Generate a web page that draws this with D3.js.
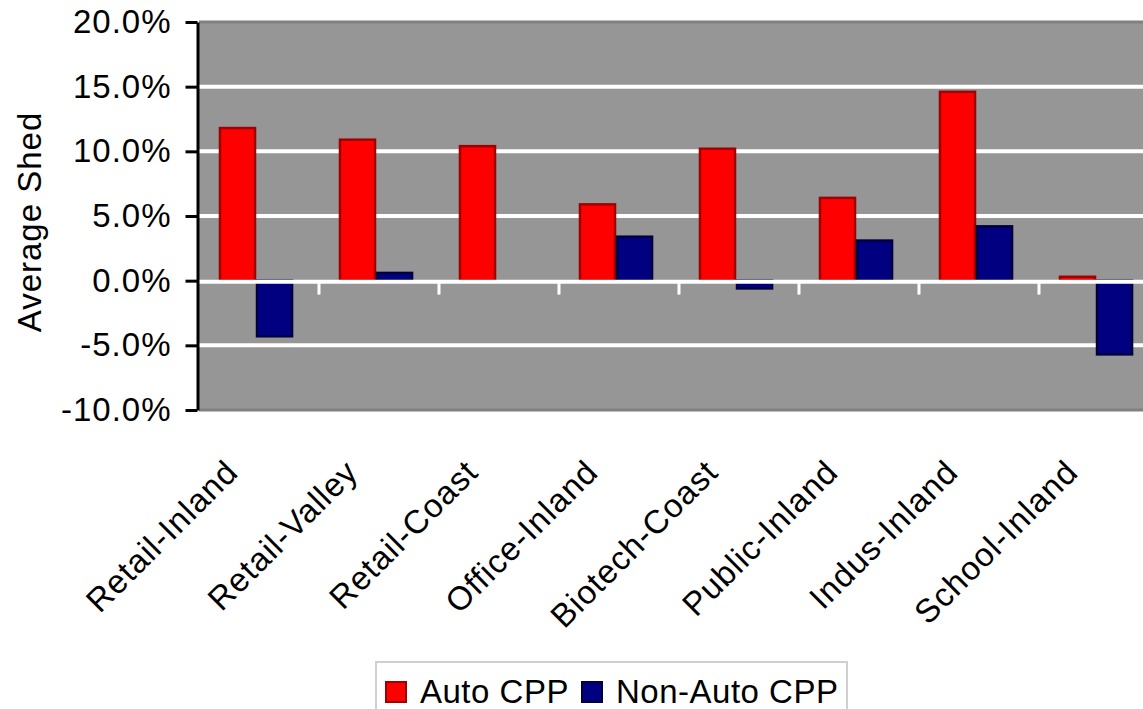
<!DOCTYPE html>
<html>
<head>
<meta charset="utf-8">
<script src="https://cdn.jsdelivr.net/npm/d3@7"></script>
<style>
  html, body { margin: 0; padding: 0; background: #fff; }
  svg { display: block; }
  text { font-family: "Liberation Sans", Arial, sans-serif; fill: #000; }
</style>
</head>
<body>
<svg id="chart" width="1143" height="709"></svg>
<script>
// Average load shed by building segment
const categories = ["Retail-Inland", "Retail-Valley", "Retail-Coast", "Office-Inland",
                    "Biotech-Coast", "Public-Inland", "Indus-Inland", "School-Inland"];
const seriesNames = ["Auto CPP", "Non-Auto CPP"];
const autoCPP    = [11.8, 10.9, 10.4, 5.9, 10.2, 6.4, 14.6, 0.3];
const nonAutoCPP = [-4.3, 0.6, 0.0, 3.4, -0.6, 3.1, 4.2, -5.7];
const yTicks = [-10, -5, 0, 5, 10, 15, 20];
const seriesColors = ["#ff0000", "#000080"];
const seriesEdges  = ["#a00000", "#000040"];

const svg = d3.select("#chart");
const plot = { left: 199, right: 1159, top: 22, bottom: 410 };

const x0 = d3.scaleBand().domain(categories).range([plot.left, plot.right]).padding(0);
const x1 = d3.scaleBand().domain(seriesNames).range([0, x0.bandwidth()])
  .paddingInner(0).paddingOuter(0.62).align(0.435);
const y = d3.scaleLinear().domain([-10, 20]).range([plot.bottom, plot.top]);

// plot background
svg.append("rect")
  .attr("x", plot.left).attr("y", plot.top)
  .attr("width", plot.right - plot.left).attr("height", plot.bottom - plot.top)
  .attr("fill", "#969696");
svg.append("g").selectAll("line").data([20, -10]).join("line")
  .attr("x1", plot.left).attr("x2", plot.right)
  .attr("y1", d => y(d)).attr("y2", d => y(d))
  .attr("stroke", "#808080").attr("stroke-width", 3);

// horizontal gridlines
svg.append("g").selectAll("line").data(yTicks.filter(d => d !== 0 && d !== 20 && d !== -10)).join("line")
  .attr("x1", plot.left).attr("x2", plot.right)
  .attr("y1", d => y(d)).attr("y2", d => y(d))
  .attr("stroke", "#fff").attr("stroke-width", 4);

// bars
const rows = categories.map((c, i) => ({ cat: c, vals: [autoCPP[i], nonAutoCPP[i]] }));
const groups = svg.append("g").selectAll("g").data(rows).join("g")
  .attr("transform", d => `translate(${x0(d.cat)},0)`);
groups.selectAll("rect")
  .data(d => d.vals.map((v, k) => ({ v, k })).filter(e => e.v !== 0))
  .join("rect")
  .attr("x", e => x1(seriesNames[e.k]) + 1)
  .attr("width", x1.bandwidth() - 2)
  .attr("y", e => Math.min(y(e.v), y(0)))
  .attr("height", e => Math.abs(y(e.v) - y(0)))
  .attr("fill", e => seriesColors[e.k])
  .attr("stroke", e => seriesEdges[e.k])
  .attr("stroke-width", 2.5);

// zero line with category separators
svg.append("line")
  .attr("x1", plot.left).attr("x2", plot.right)
  .attr("y1", y(0) + 1).attr("y2", y(0) + 1)
  .attr("stroke", "#fff").attr("stroke-width", 4);
svg.append("g").selectAll("line").data(categories.slice(1)).join("line")
  .attr("x1", d => x0(d)).attr("x2", d => x0(d))
  .attr("y1", y(0) + 2).attr("y2", y(0) + 14)
  .attr("stroke", "#fff").attr("stroke-width", 3);

// y axis
const yAxis = svg.append("g")
  .attr("transform", `translate(${plot.left - 1.5},0)`)
  .call(d3.axisLeft(y).tickValues(yTicks).tickSize(12).tickSizeOuter(0).tickPadding(14)
    .tickFormat(d => d.toFixed(1) + "%"));
yAxis.select(".domain").attr("stroke", "#000").attr("stroke-width", 3);
yAxis.selectAll(".tick line").attr("stroke", "#000").attr("stroke-width", 3);
yAxis.selectAll(".tick text")
  .style("font-family", "'Liberation Sans', Arial, sans-serif")
  .style("font-size", "33px").style("letter-spacing", "1px").attr("fill", "#000");

// y axis title
svg.append("text")
  .attr("transform", "translate(41,222) rotate(-90)")
  .attr("text-anchor", "middle")
  .style("font-size", "33px").style("letter-spacing", "1px")
  .text("Average Shed");

// category labels
svg.append("g").selectAll("text").data(categories).join("text")
  .attr("transform", d => `translate(${x0(d) + x0.bandwidth() / 2 - 19},474) rotate(-45)`)
  .attr("text-anchor", "end")
  .style("font-size", "33px").style("letter-spacing", "1px")
  .text(d => d);

// legend
const legend = svg.append("g");
legend.append("rect")
  .attr("x", 376).attr("y", 662).attr("width", 471).attr("height", 70)
  .attr("fill", "#fff").attr("stroke", "#d0d0d0").attr("stroke-width", 2);
const legendX = [386, 582];
const items = legend.selectAll("g.item").data(seriesNames).join("g")
  .attr("class", "item")
  .attr("transform", (d, i) => `translate(${legendX[i]},682)`);
items.append("rect")
  .attr("width", 20).attr("height", 20)
  .attr("fill", (d, i) => seriesColors[i])
  .attr("stroke", (d, i) => seriesEdges[i]).attr("stroke-width", 2);
items.append("text")
  .attr("x", 34).attr("y", 21)
  .style("font-size", "33px").style("letter-spacing", "0.5px")
  .text(d => d);
</script>
</body>
</html>
